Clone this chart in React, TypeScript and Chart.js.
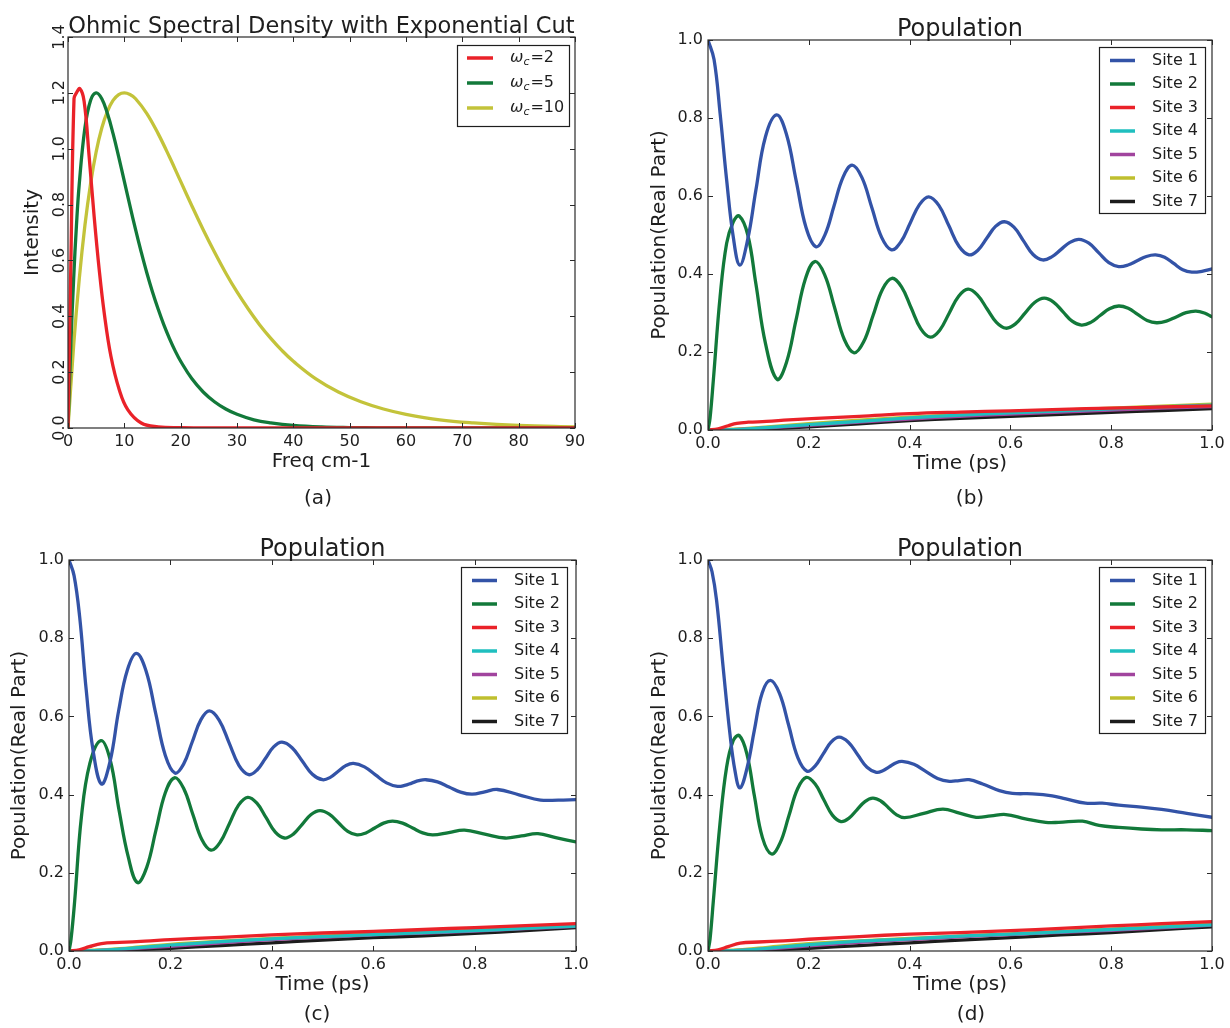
import React, { useEffect, useRef } from "react";
import { Chart, registerables } from "chart.js";

Chart.register(...registerables);

type Pt = [number, number];

const FONT = "'DejaVu Sans', 'Bitstream Vera Sans', Verdana, sans-serif";
const INK = "#1e1e1e";

// ---------------- Panel (a): Ohmic spectral density ----------------
const WC_LABELS = ["ωc=2", "ωc=5", "ωc=10"];
const J_WC2: Pt[] = [[0, 0], [0.5, 0.58], [1.07, 1.18], [1.5, 1.2], [2.1, 1.215], [2.86, 1.17], [3.75, 0.973], [4.64, 0.758], [5.54, 0.567], [6.43, 0.412], [7.62, 0.257], [9.1, 0.137], [10.6, 0.066], [13, 0.018], [16, 0.004], [20, 0.001], [25, 0], [90, 0]];
const J_WC5: Pt[] = [[0, 0], [0.5, 0.295], [1, 0.534], [1.5, 0.725], [2, 0.874], [3, 1.074], [4, 1.173], [5, 1.2], [6, 1.179], [7, 1.126], [8, 1.054], [9, 0.971], [10, 0.883], [11, 0.795], [12, 0.71], [13, 0.63], [14, 0.555], [15, 0.487], [16, 0.426], [17, 0.37], [18, 0.321], [19, 0.277], [20, 0.239], [22, 0.176], [24, 0.129], [26, 0.094], [28, 0.068], [30, 0.049], [33, 0.029], [36, 0.018], [40, 0.009], [45, 0.0036], [50, 0.0015], [55, 0.0006], [60, 0.0002], [90, 0]];
const J_WC10: Pt[] = [[0, 0], [1, 0.295], [2, 0.534], [3, 0.725], [4, 0.874], [5, 0.989], [6, 1.074], [7, 1.134], [8, 1.173], [9, 1.194], [10, 1.2], [11, 1.194], [12, 1.179], [14, 1.126], [16, 1.054], [18, 0.971], [20, 0.883], [22, 0.795], [24, 0.71], [26, 0.63], [28, 0.555], [30, 0.487], [32, 0.426], [34, 0.37], [36, 0.321], [38, 0.277], [40, 0.239], [44, 0.176], [48, 0.129], [52, 0.094], [56, 0.068], [60, 0.049], [66, 0.029], [72, 0.018], [80, 0.009], [90, 0.0036]];

// ---------------- Panels (b)-(d): site populations ----------------
const SITE_LABELS = ["Site 1", "Site 2", "Site 3", "Site 4", "Site 5", "Site 6", "Site 7"];

const B_SITE1: Pt[] = [[0, 1], [0.012, 0.95], [0.024, 0.812], [0.037, 0.641], [0.05, 0.496], [0.063, 0.423], [0.079, 0.49], [0.095, 0.615], [0.114, 0.752], [0.136, 0.808], [0.1555, 0.759], [0.175, 0.639], [0.1945, 0.519], [0.214, 0.47], [0.232, 0.5005], [0.25, 0.5745], [0.268, 0.6485], [0.286, 0.679], [0.3055, 0.647], [0.325, 0.5705], [0.3445, 0.494], [0.364, 0.462], [0.3825, 0.482], [0.401, 0.53], [0.4195, 0.578], [0.438, 0.598], [0.458, 0.576], [0.478, 0.5235], [0.498, 0.471], [0.518, 0.449], [0.5355, 0.461], [0.553, 0.4915], [0.5705, 0.522], [0.588, 0.534], [0.607, 0.52], [0.626, 0.485], [0.645, 0.45], [0.664, 0.436], [0.682, 0.444], [0.7, 0.4625], [0.718, 0.481], [0.736, 0.489], [0.7558, 0.479], [0.7755, 0.454], [0.7953, 0.429], [0.815, 0.419], [0.8333, 0.423], [0.8515, 0.434], [0.8698, 0.445], [0.888, 0.449], [0.906, 0.443], [0.924, 0.427], [0.942, 0.411], [0.96, 0.405], [0.98, 0.407], [1, 0.413]];
const B_SITE2: Pt[] = [[0, 0], [0.004, 0.03], [0.0106, 0.128], [0.024, 0.342], [0.037, 0.479], [0.05, 0.533], [0.062, 0.549], [0.079, 0.5], [0.095, 0.375], [0.114, 0.222], [0.137, 0.13], [0.1558, 0.174], [0.1745, 0.281], [0.1933, 0.388], [0.212, 0.432], [0.2315, 0.398], [0.251, 0.315], [0.2705, 0.232], [0.29, 0.198], [0.3088, 0.226], [0.3275, 0.2935], [0.3463, 0.361], [0.365, 0.389], [0.384, 0.367], [0.403, 0.3135], [0.422, 0.26], [0.441, 0.238], [0.4598, 0.256], [0.4785, 0.2995], [0.4973, 0.343], [0.516, 0.361], [0.5348, 0.346], [0.5535, 0.311], [0.5723, 0.276], [0.591, 0.261], [0.61, 0.272], [0.629, 0.2995], [0.648, 0.327], [0.667, 0.338], [0.6855, 0.328], [0.704, 0.3035], [0.7225, 0.279], [0.741, 0.269], [0.7595, 0.276], [0.778, 0.2935], [0.7965, 0.311], [0.815, 0.318], [0.8338, 0.312], [0.8525, 0.2965], [0.8713, 0.281], [0.89, 0.275], [0.9095, 0.279], [0.929, 0.29], [0.9485, 0.301], [0.968, 0.305], [0.985, 0.3], [1, 0.29]];
const B_SITE3: Pt[] = [[0, 0], [0.02, 0.003], [0.04, 0.011], [0.057, 0.017], [0.08, 0.02], [0.116, 0.022], [0.16, 0.026], [0.215, 0.03], [0.3, 0.035], [0.4, 0.042], [0.5, 0.046], [0.6, 0.049], [0.7, 0.053], [0.8, 0.056], [0.9, 0.059], [1, 0.062]];
const B_SITE4: Pt[] = [[0, 0], [0.05, 0.001], [0.1, 0.005], [0.2, 0.014], [0.3, 0.022], [0.4, 0.031], [0.5, 0.038], [0.6, 0.044], [0.7, 0.049], [0.8, 0.054], [0.9, 0.059], [1, 0.064]];
const B_SITE5: Pt[] = [[0, 0], [0.05, 0.001], [0.1, 0.004], [0.2, 0.012], [0.3, 0.02], [0.4, 0.028], [0.5, 0.035], [0.6, 0.041], [0.7, 0.046], [0.8, 0.051], [0.9, 0.056], [1, 0.06]];
const B_SITE6: Pt[] = [[0, 0], [0.05, 0.002], [0.1, 0.006], [0.2, 0.016], [0.3, 0.025], [0.4, 0.033], [0.5, 0.039], [0.6, 0.045], [0.7, 0.051], [0.8, 0.056], [0.9, 0.061], [1, 0.066]];
const B_SITE7: Pt[] = [[0, 0], [0.05, 0], [0.1, 0.002], [0.2, 0.008], [0.3, 0.016], [0.4, 0.024], [0.5, 0.03], [0.6, 0.035], [0.7, 0.04], [0.8, 0.045], [0.9, 0.05], [1, 0.055]];

const C_SITE1: Pt[] = [[0, 1], [0.01, 0.96], [0.021, 0.855], [0.034, 0.667], [0.0475, 0.513], [0.064, 0.427], [0.081, 0.485], [0.098, 0.615], [0.115, 0.718], [0.133, 0.761], [0.152, 0.716], [0.171, 0.608], [0.19, 0.5], [0.209, 0.455], [0.226, 0.478], [0.243, 0.5345], [0.26, 0.591], [0.277, 0.614], [0.2964, 0.59], [0.3158, 0.5325], [0.3351, 0.475], [0.3545, 0.451], [0.371, 0.463], [0.3873, 0.4925], [0.4036, 0.522], [0.42, 0.534], [0.44, 0.52], [0.46, 0.486], [0.48, 0.452], [0.5, 0.438], [0.5153, 0.444], [0.5305, 0.459], [0.5458, 0.474], [0.561, 0.48], [0.5828, 0.471], [0.6045, 0.4505], [0.6263, 0.43], [0.648, 0.421], [0.662, 0.4235], [0.676, 0.4295], [0.69, 0.4355], [0.704, 0.438], [0.7268, 0.4326], [0.7495, 0.4195], [0.7723, 0.4064], [0.795, 0.401], [0.82, 0.407], [0.845, 0.413], [0.8875, 0.3995], [0.93, 0.386], [0.965, 0.386], [1, 0.387]];
const C_SITE2: Pt[] = [[0, 0], [0.004, 0.03], [0.0112, 0.128], [0.0244, 0.342], [0.041, 0.479], [0.063, 0.538], [0.081, 0.49], [0.099, 0.358], [0.117, 0.24], [0.135, 0.175], [0.1533, 0.214], [0.1715, 0.309], [0.1898, 0.404], [0.208, 0.443], [0.226, 0.416], [0.244, 0.3505], [0.262, 0.285], [0.28, 0.258], [0.2981, 0.278], [0.3163, 0.3255], [0.3344, 0.373], [0.3525, 0.393], [0.3706, 0.378], [0.3888, 0.341], [0.4069, 0.304], [0.425, 0.289], [0.4425, 0.299], [0.46, 0.324], [0.4775, 0.349], [0.495, 0.359], [0.5133, 0.35], [0.5315, 0.328], [0.5498, 0.306], [0.568, 0.297], [0.5855, 0.302], [0.603, 0.3145], [0.6205, 0.327], [0.638, 0.332], [0.6579, 0.327], [0.6778, 0.3145], [0.6976, 0.302], [0.7175, 0.297], [0.749, 0.303], [0.78, 0.309], [0.82, 0.299], [0.86, 0.289], [0.8925, 0.2945], [0.925, 0.3], [0.96, 0.29], [1, 0.279]];
const C_SITE3: Pt[] = [[0, 0], [0.02, 0.003], [0.04, 0.011], [0.064, 0.019], [0.1, 0.022], [0.15, 0.025], [0.2, 0.029], [0.3, 0.035], [0.4, 0.041], [0.5, 0.046], [0.6, 0.05], [0.7, 0.055], [0.8, 0.06], [0.9, 0.065], [1, 0.07]];
const C_SITE4: Pt[] = [[0, 0], [0.05, 0.001], [0.1, 0.005], [0.2, 0.015], [0.3, 0.024], [0.4, 0.031], [0.5, 0.037], [0.6, 0.042], [0.7, 0.047], [0.8, 0.052], [0.9, 0.058], [1, 0.064]];
const C_SITE5: Pt[] = [[0, 0], [0.05, 0.001], [0.1, 0.004], [0.2, 0.012], [0.3, 0.021], [0.4, 0.029], [0.5, 0.035], [0.6, 0.041], [0.7, 0.046], [0.8, 0.051], [0.9, 0.057], [1, 0.063]];
const C_SITE6: Pt[] = [[0, 0], [0.05, 0.002], [0.1, 0.006], [0.2, 0.017], [0.3, 0.025], [0.4, 0.032], [0.5, 0.038], [0.6, 0.043], [0.7, 0.048], [0.8, 0.053], [0.9, 0.059], [1, 0.066]];
const C_SITE7: Pt[] = [[0, 0], [0.05, 0], [0.1, 0.002], [0.2, 0.007], [0.3, 0.014], [0.4, 0.021], [0.5, 0.028], [0.6, 0.034], [0.7, 0.039], [0.8, 0.045], [0.9, 0.052], [1, 0.06]];

const D_SITE1: Pt[] = [[0, 1], [0.008, 0.97], [0.017, 0.897], [0.03, 0.726], [0.0435, 0.556], [0.0534, 0.462], [0.0633, 0.417], [0.0775, 0.468], [0.092, 0.565], [0.1075, 0.66], [0.124, 0.692], [0.1421, 0.658], [0.1603, 0.576], [0.1784, 0.494], [0.1965, 0.46], [0.2124, 0.473], [0.2283, 0.5035], [0.2441, 0.534], [0.26, 0.547], [0.2785, 0.534], [0.297, 0.502], [0.3155, 0.47], [0.334, 0.457], [0.3468, 0.461], [0.3595, 0.471], [0.3723, 0.481], [0.385, 0.485], [0.4085, 0.4776], [0.432, 0.4595], [0.4555, 0.4414], [0.479, 0.434], [0.4985, 0.436], [0.518, 0.438], [0.545, 0.427], [0.578, 0.41], [0.604, 0.403], [0.644, 0.402], [0.683, 0.397], [0.71, 0.389], [0.749, 0.378], [0.782, 0.378], [0.815, 0.373], [0.86, 0.368], [0.9, 0.362], [0.95, 0.352], [1, 0.342]];
const D_SITE2: Pt[] = [[0, 0], [0.004, 0.03], [0.0106, 0.128], [0.0237, 0.325], [0.0369, 0.47], [0.05, 0.538], [0.062, 0.551], [0.077, 0.505], [0.092, 0.397], [0.108, 0.29], [0.126, 0.248], [0.1433, 0.277], [0.1605, 0.346], [0.1778, 0.415], [0.195, 0.444], [0.2123, 0.4275], [0.2295, 0.3875], [0.2468, 0.3475], [0.264, 0.331], [0.2798, 0.3398], [0.2955, 0.361], [0.3113, 0.3822], [0.327, 0.391], [0.3428, 0.3837], [0.3585, 0.366], [0.3743, 0.3483], [0.39, 0.341], [0.428, 0.352], [0.466, 0.363], [0.499, 0.3525], [0.532, 0.342], [0.5615, 0.3455], [0.591, 0.349], [0.63, 0.338], [0.67, 0.329], [0.696, 0.329], [0.743, 0.332], [0.776, 0.321], [0.815, 0.316], [0.86, 0.312], [0.9, 0.31], [0.95, 0.31], [1, 0.308]];
const D_SITE3: Pt[] = [[0, 0], [0.02, 0.003], [0.04, 0.011], [0.064, 0.02], [0.1, 0.023], [0.15, 0.026], [0.2, 0.03], [0.3, 0.037], [0.4, 0.043], [0.5, 0.047], [0.6, 0.052], [0.7, 0.058], [0.8, 0.064], [0.9, 0.07], [1, 0.075]];
const D_SITE4: Pt[] = [[0, 0], [0.05, 0.001], [0.1, 0.005], [0.2, 0.016], [0.3, 0.025], [0.4, 0.031], [0.5, 0.038], [0.6, 0.043], [0.7, 0.049], [0.8, 0.055], [0.9, 0.061], [1, 0.067]];
const D_SITE5: Pt[] = [[0, 0], [0.05, 0.001], [0.1, 0.004], [0.2, 0.013], [0.3, 0.022], [0.4, 0.029], [0.5, 0.036], [0.6, 0.042], [0.7, 0.048], [0.8, 0.053], [0.9, 0.059], [1, 0.066]];
const D_SITE6: Pt[] = [[0, 0], [0.05, 0.002], [0.1, 0.007], [0.2, 0.019], [0.3, 0.026], [0.4, 0.032], [0.5, 0.038], [0.6, 0.044], [0.7, 0.05], [0.8, 0.056], [0.9, 0.063], [1, 0.07]];
const D_SITE7: Pt[] = [[0, 0], [0.05, 0], [0.1, 0.002], [0.2, 0.007], [0.3, 0.014], [0.4, 0.021], [0.5, 0.028], [0.6, 0.034], [0.7, 0.041], [0.8, 0.047], [0.9, 0.055], [1, 0.062]];

// ---------------- styles ----------------
const WC_COLORS = ["#ea2229", "#12793a", "#c3c33a"];
const SITE_COLORS = ["#3353a7", "#12793a", "#ea2229", "#1fbfbf", "#a1449e", "#bfbf2e", "#1c1c1c"];

type Spec = {
  series: { label: string; color: string; data: Pt[] }[];
  canvasW: number;
  canvasH: number;
  area: { l: number; r: number; t: number; b: number };
  xMax: number;
  xStep: number;
  xDigits: number;
  yMax: number;
  yStep: number;
  title: string;
  titleSize: number;
  xLabel: string;
  yLabel: string;
  yLabelX: number;
  rotateYTicks: boolean;
  panelLabel: string;
  panelLabelPos: [number, number];
  legend: { width: number; height: number; rightGap: number; topGap: number; firstRow: number; rowH: number; lineX0: number; lineX1: number; textX: number };
};

function drawLegendText(ctx: CanvasRenderingContext2D, text: string, x: number, y: number, size: number) {
  const m = /^ω(c)(=.*)$/.exec(text);
  ctx.textAlign = "left";
  ctx.textBaseline = "middle";
  ctx.fillStyle = INK;
  if (m) {
    ctx.font = `italic ${size}px ${FONT}`;
    ctx.fillText("ω", x, y);
    let w = ctx.measureText("ω").width;
    ctx.font = `italic ${Math.round(size * 0.68)}px ${FONT}`;
    ctx.fillText(m[1], x + w, y + size * 0.28);
    w += ctx.measureText(m[1]).width + 1;
    ctx.font = `${size}px ${FONT}`;
    ctx.fillText(m[2], x + w, y);
  } else {
    ctx.font = `${size}px ${FONT}`;
    ctx.fillText(text, x, y);
  }
}

function makePlugin(spec: Spec) {
  return {
    id: "mplDecor",
    afterDatasetsDraw(chart: any) {
      const ctx: CanvasRenderingContext2D = chart.ctx;
      const { left, right, top, bottom } = chart.chartArea;
      const xs = chart.scales.x;
      const ys = chart.scales.y;
      ctx.save();
      ctx.strokeStyle = "#2a2a2a";
      ctx.lineWidth = 1.2;
      ctx.strokeRect(left, top, right - left, bottom - top);
      const tl = 5;
      ctx.lineWidth = 1;
      ctx.beginPath();
      for (const t of xs.ticks) {
        const px = Math.round(xs.getPixelForValue(t.value)) + 0.5;
        ctx.moveTo(px, bottom);
        ctx.lineTo(px, bottom - tl);
        ctx.moveTo(px, top);
        ctx.lineTo(px, top + tl);
      }
      for (const t of ys.ticks) {
        const py = Math.round(ys.getPixelForValue(t.value)) + 0.5;
        ctx.moveTo(left, py);
        ctx.lineTo(left + tl, py);
        ctx.moveTo(right, py);
        ctx.lineTo(right - tl, py);
      }
      ctx.stroke();
      ctx.restore();
    },
    afterDraw(chart: any) {
      const ctx: CanvasRenderingContext2D = chart.ctx;
      const { left, right, top, bottom } = chart.chartArea;
      const ys = chart.scales.y;
      const cx = (left + right) / 2;
      const cy = (top + bottom) / 2;
      ctx.save();
      ctx.fillStyle = INK;
      ctx.font = `${spec.titleSize}px ${FONT}`;
      ctx.textAlign = "center";
      ctx.textBaseline = "alphabetic";
      ctx.fillText(spec.title, cx, top - 4);
      ctx.font = `20px ${FONT}`;
      ctx.fillText(spec.xLabel, cx, bottom + 39);
      ctx.save();
      ctx.translate(spec.yLabelX, cy);
      ctx.rotate(-Math.PI / 2);
      ctx.textBaseline = "middle";
      ctx.fillText(spec.yLabel, 0, 0);
      ctx.restore();
      if (spec.rotateYTicks) {
        ctx.font = `16px ${FONT}`;
        for (const t of ys.ticks) {
          const py = ys.getPixelForValue(t.value);
          ctx.save();
          ctx.translate(left - 4, py);
          ctx.rotate(-Math.PI / 2);
          ctx.textAlign = "center";
          ctx.textBaseline = "alphabetic";
          ctx.fillText(Number(t.value).toFixed(1), 0, 0);
          ctx.restore();
        }
      }
      ctx.font = `20px ${FONT}`;
      ctx.textAlign = "center";
      ctx.textBaseline = "middle";
      ctx.fillText(spec.panelLabel, spec.panelLabelPos[0], spec.panelLabelPos[1]);
      const L = spec.legend;
      const bx = right - L.rightGap - L.width;
      const by = top + L.topGap;
      ctx.fillStyle = "#ffffff";
      ctx.fillRect(bx, by, L.width, L.height);
      ctx.strokeStyle = "#1e1e1e";
      ctx.lineWidth = 1.2;
      ctx.strokeRect(bx + 0.5, by + 0.5, L.width, L.height);
      chart.data.datasets.forEach((ds: any, i: number) => {
        const y = by + L.firstRow + i * L.rowH;
        ctx.strokeStyle = ds.borderColor;
        ctx.lineWidth = 3.5;
        ctx.beginPath();
        ctx.moveTo(bx + L.lineX0, y);
        ctx.lineTo(bx + L.lineX1, y);
        ctx.stroke();
        drawLegendText(ctx, ds.label, bx + L.textX, y, 16);
      });
      ctx.restore();
    },
  };
}

function buildConfig(spec: Spec): any {
  const tickFont = { family: FONT, size: 16 };
  return {
    type: "line",
    data: {
      datasets: spec.series.map((s) => ({
        label: s.label,
        data: s.data.map(([x, y]) => ({ x, y })),
        borderColor: s.color,
        backgroundColor: s.color,
        borderWidth: 3.3,
        pointRadius: 0,
        pointHoverRadius: 0,
        fill: false,
        tension: 0.4,
        borderJoinStyle: "round",
        borderCapStyle: "round",
      })),
    },
    options: {
      responsive: false,
      maintainAspectRatio: false,
      animation: false,
      events: [],
      layout: { padding: { left: 0, top: spec.area.t, right: spec.canvasW - spec.area.r, bottom: 0 } },
      plugins: { legend: { display: false }, title: { display: false }, tooltip: { enabled: false } },
      scales: {
        x: {
          type: "linear",
          min: 0,
          max: spec.xMax,
          afterFit: (s: any) => {
            s.height = spec.canvasH - spec.area.b;
          },
          grid: { display: false, drawTicks: false },
          border: { display: false },
          ticks: {
            stepSize: spec.xStep,
            autoSkip: false,
            maxRotation: 0,
            minRotation: 0,
            padding: 4,
            color: INK,
            font: tickFont,
            callback: (v: any) => Number(v).toFixed(spec.xDigits),
          },
        },
        y: {
          type: "linear",
          min: 0,
          max: spec.yMax,
          afterFit: (s: any) => {
            s.width = spec.area.l;
          },
          grid: { display: false, drawTicks: false },
          border: { display: false },
          ticks: {
            display: !spec.rotateYTicks,
            stepSize: spec.yStep,
            autoSkip: false,
            padding: 5,
            color: INK,
            font: tickFont,
            callback: (v: any) => Number(v).toFixed(1),
          },
        },
      },
    },
    plugins: [makePlugin(spec)],
  };
}

function Panel({ x, y, spec }: { x: number; y: number; spec: Spec }) {
  const ref = useRef<HTMLCanvasElement>(null);
  useEffect(() => {
    if (!ref.current) return;
    const chart = new Chart(ref.current, buildConfig(spec));
    return () => chart.destroy();
  }, []);
  return (
    <div style={{ position: "absolute", left: x, top: y, width: spec.canvasW, height: spec.canvasH }}>
      <canvas ref={ref} width={spec.canvasW} height={spec.canvasH} style={{ width: spec.canvasW, height: spec.canvasH, display: "block" }} />
    </div>
  );
}

const siteLegend = { width: 106, height: 166, rightGap: 7, topGap: 7, firstRow: 13.5, rowH: 23.5, lineX0: 11, lineX1: 36, textX: 53 };

function sites(sets: Pt[][]) {
  return sets.map((d, i) => ({ label: SITE_LABELS[i], color: SITE_COLORS[i], data: d }));
}

const SPEC_A: Spec = {
  series: [
    { label: WC_LABELS[0], color: WC_COLORS[0], data: J_WC2 },
    { label: WC_LABELS[1], color: WC_COLORS[1], data: J_WC5 },
    { label: WC_LABELS[2], color: WC_COLORS[2], data: J_WC10 },
  ],
  canvasW: 615,
  canvasH: 520,
  area: { l: 68, r: 575, t: 37, b: 428 },
  xMax: 90,
  xStep: 10,
  xDigits: 0,
  yMax: 1.4,
  yStep: 0.2,
  title: "Ohmic Spectral Density with Exponential Cut",
  titleSize: 22.5,
  xLabel: "Freq cm-1",
  yLabel: "Intensity",
  yLabelX: 33,
  rotateYTicks: true,
  panelLabel: "(a)",
  panelLabelPos: [318, 499],
  legend: { width: 112, height: 81, rightGap: 6, topGap: 8, firstRow: 13, rowH: 25, lineX0: 10, lineX1: 36, textX: 53 },
};

const SPEC_B: Spec = {
  series: sites([B_SITE1, B_SITE2, B_SITE3, B_SITE4, B_SITE5, B_SITE6, B_SITE7]),
  canvasW: 615,
  canvasH: 520,
  area: { l: 93, r: 597, t: 40, b: 430 },
  xMax: 1,
  xStep: 0.2,
  xDigits: 1,
  yMax: 1,
  yStep: 0.2,
  title: "Population",
  titleSize: 24,
  xLabel: "Time (ps)",
  yLabel: "Population(Real Part)",
  yLabelX: 45,
  rotateYTicks: false,
  panelLabel: "(b)",
  panelLabelPos: [355, 499],
  legend: siteLegend,
};

const SPEC_C: Spec = {
  ...SPEC_B,
  series: sites([C_SITE1, C_SITE2, C_SITE3, C_SITE4, C_SITE5, C_SITE6, C_SITE7]),
  canvasH: 508,
  area: { l: 69, r: 576, t: 40, b: 431 },
  yLabelX: 20,
  panelLabel: "(c)",
  panelLabelPos: [317, 495],
  legend: { ...siteLegend, rightGap: 9 },
};

const SPEC_D: Spec = {
  ...SPEC_B,
  series: sites([D_SITE1, D_SITE2, D_SITE3, D_SITE4, D_SITE5, D_SITE6, D_SITE7]),
  canvasH: 508,
  area: { l: 93, r: 597, t: 40, b: 431 },
  panelLabel: "(d)",
  panelLabelPos: [356, 495],
};

export default function App() {
  return (
    <div style={{ position: "absolute", left: 0, top: 0, width: 1230, height: 1028, background: "#ffffff", overflow: "hidden" }}>
      <Panel x={0} y={0} spec={SPEC_A} />
      <Panel x={615} y={0} spec={SPEC_B} />
      <Panel x={0} y={520} spec={SPEC_C} />
      <Panel x={615} y={520} spec={SPEC_D} />
    </div>
  );
}
